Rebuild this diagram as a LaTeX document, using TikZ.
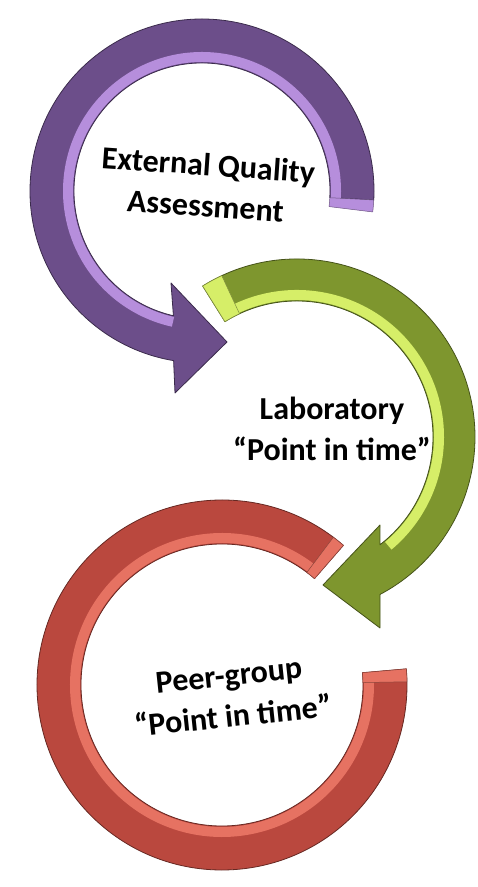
\documentclass[tikz,border=0pt]{standalone}
\usepackage{fontspec}
\setmainfont{Carlito}
\definecolor{eqaPurple}{RGB}{108,78,138}
\definecolor{eqaLilac}{RGB}{182,142,220}
\definecolor{labGreen}{RGB}{126,150,46}
\definecolor{labLime}{RGB}{214,238,104}
\definecolor{peerRed}{RGB}{186,72,62}
\definecolor{peerPink}{RGB}{230,114,98}
\tikzset{
  ringbody/.style={fill=#1, draw=#1!55!black, line width=0.8pt, line join=round},
  bevel/.style={draw=#1, line width=10pt},
  capface/.style={fill=#1, draw=#1!60!black, line width=0.5pt},
  cyclelabel/.style={font=\bfseries\fontsize{32}{41}\selectfont, align=center, text=black, inner sep=0pt},
}

\begin{document}
\begin{tikzpicture}[x=1pt,y=1pt]
	\useasboundingbox (0,0) rectangle (477,887);

	%purple arrow, external quality assessment
	\begin{scope}[shift={(202,696)}]
		\filldraw[ringbody=eqaPurple] (-3:172) arc[start angle=-3, end angle=260.5, radius=172]
			-- (-27,-202) -- (25,-151) -- (-31,-92) -- (257.1:128)
			arc[start angle=257.1, end angle=-3, radius=128] -- cycle;
		\draw[bevel=eqaLilac] (-3:134) arc[start angle=-3, end angle=257.5, radius=134];
		\filldraw[capface=eqaLilac] (-3:172) arc[start angle=-3, end angle=-7, radius=172]
			-- (-7:128) arc[start angle=-7, end angle=-3, radius=128] -- cycle;
	\end{scope}

	%green arrow, laboratory
	\begin{scope}[shift={(297,450)}]
		\filldraw[ringbody=labGreen] (122:178) arc[start angle=122, end angle=-62.2, radius=178]
			-- (83,-191) -- (26,-148) -- (83,-88) -- (-52.4:136)
			arc[start angle=-52.4, end angle=122, radius=136] -- cycle;
		\draw[bevel=labLime] (122:142) arc[start angle=122, end angle=-50, radius=142];
		\filldraw[capface=labLime] (122:178) arc[start angle=122, end angle=115, radius=178]
			-- (115:136) arc[start angle=115, end angle=122, radius=136] -- cycle;
	\end{scope}

	%red ring, peer-group
	\begin{scope}[shift={(222,202)}]
		\filldraw[ringbody=peerRed] (49:185) arc[start angle=49, end angle=365, radius=185]
			-- (365:141) arc[start angle=365, end angle=49, radius=141] -- cycle;
		\draw[bevel=peerPink] (49:147) arc[start angle=49, end angle=365, radius=147];
		\filldraw[capface=peerPink] (49:185) arc[start angle=49, end angle=53, radius=185]
			-- (53:141) arc[start angle=53, end angle=49, radius=141] -- cycle;
		\filldraw[capface=peerPink] (365:185) arc[start angle=365, end angle=361, radius=185]
			-- (361:141) arc[start angle=361, end angle=365, radius=141] -- cycle;
	\end{scope}

	%labels
	\node[cyclelabel, rotate=-4] (eqa) at (207,702) {External Quality\\Assessment};
	\node[cyclelabel] (lab) at (332,458) {Laboratory\\“Point in time”};
	\node[cyclelabel, rotate=6] (peer) at (231,191) {Peer-group\\“Point in time”};

\end{tikzpicture}
\end{document}
